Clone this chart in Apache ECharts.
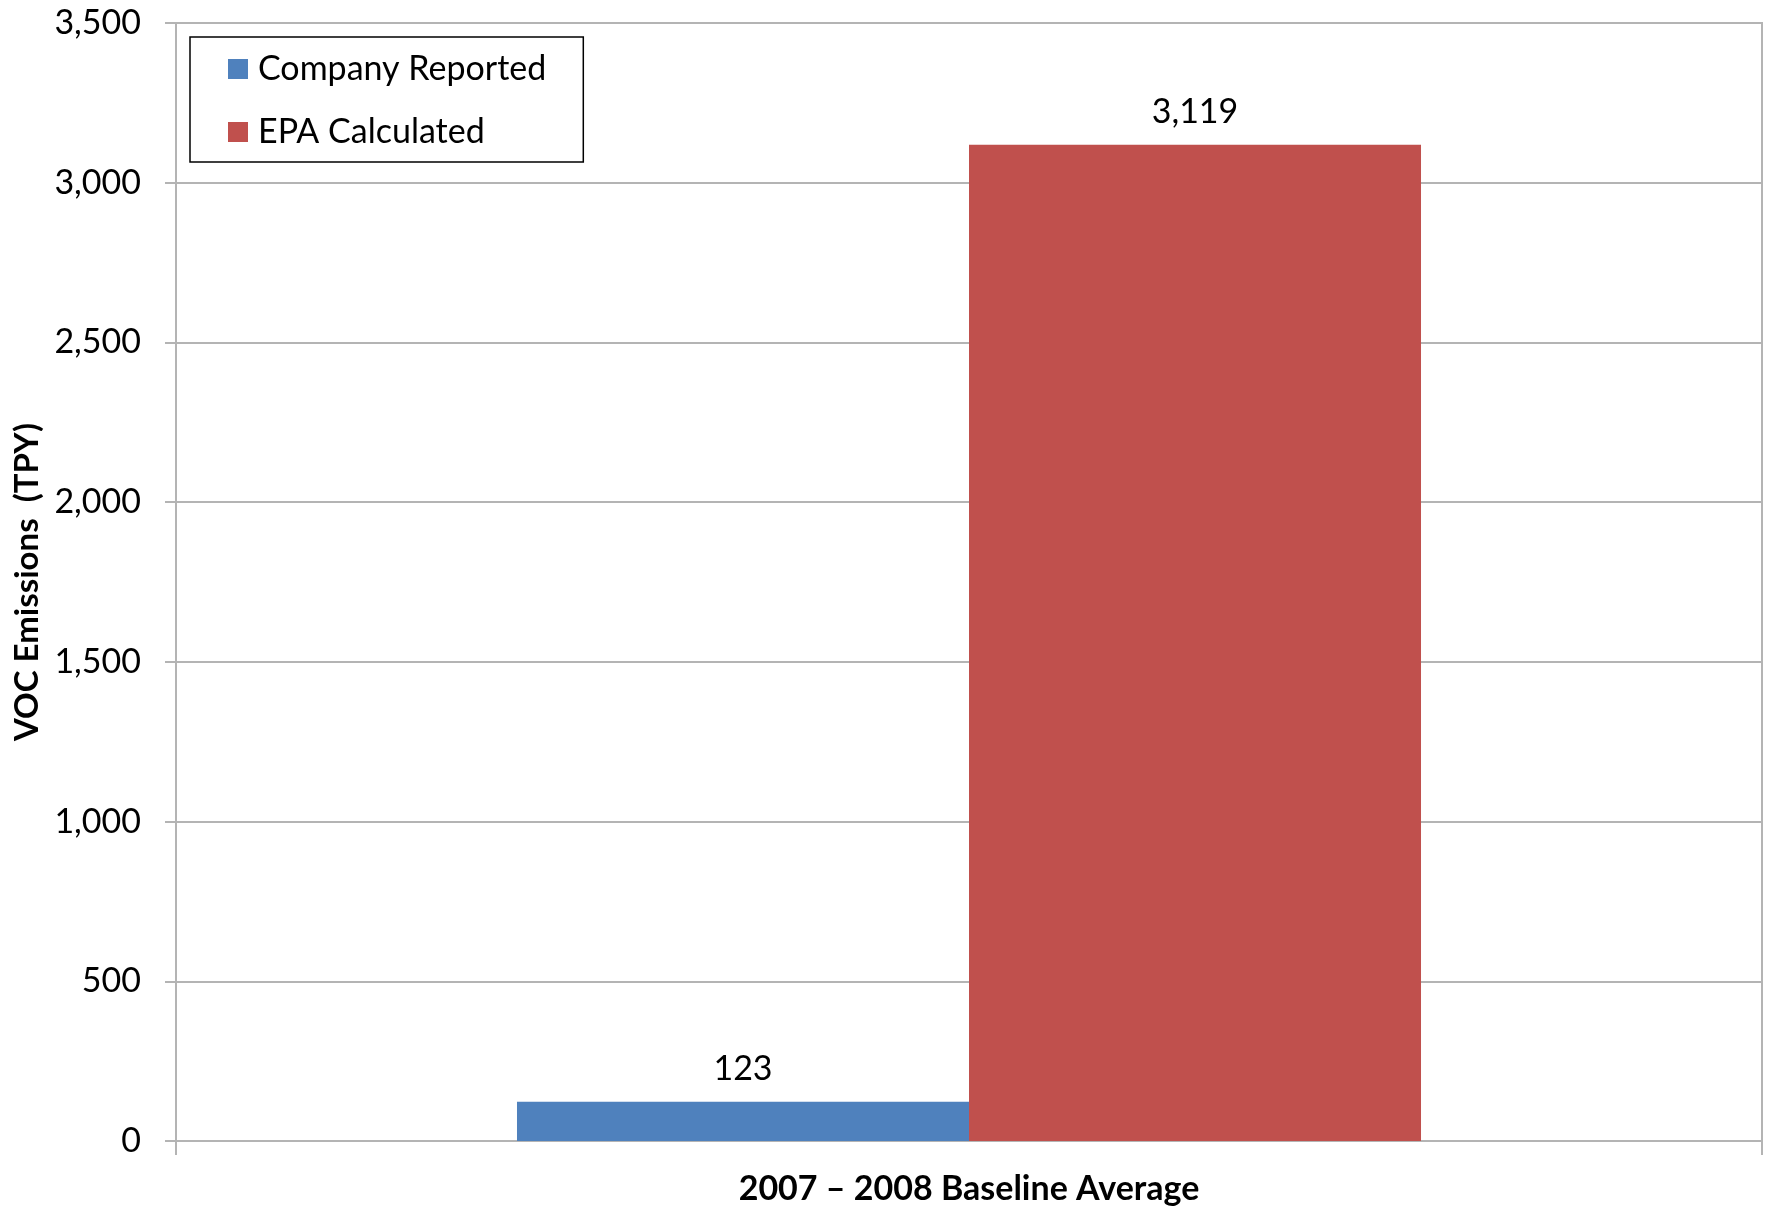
<!DOCTYPE html>
<html>
<head>
<meta charset="utf-8">
<title>VOC Emissions</title>
<script src="https://cdn.jsdelivr.net/npm/echarts@6/dist/echarts.min.js"></script>
<style>
  html, body { margin: 0; padding: 0; background: #ffffff; }
  #chart { width: 1773px; height: 1209px; }
</style>
</head>
<body>
<div id="chart"></div>
<script>
// Baseline VOC emissions, tons per year
const categories = ['2007 \u2013 2008 Baseline Average'];
const seriesNames = ['Company Reported', 'EPA Calculated'];
const companyReported = [123];
const epaCalculated = [3119];
const yTicks = [0, 500, 1000, 1500, 2000, 2500, 3000, 3500];

const FONT = 'Lato, "Open Sans", sans-serif';
const GRID_GREY = '#b4b4b4';

const chart = echarts.init(document.getElementById('chart'), null, { renderer: 'canvas' });

const fmt = v => Number(v).toLocaleString('en-US');

chart.setOption({
  animation: false,
  backgroundColor: '#ffffff',
  grid: {
    left: 176, right: 11, top: 23, bottom: 68,
    outerBoundsMode: 'none',
    containLabel: false,
    show: true, borderColor: GRID_GREY, borderWidth: 2
  },
  legend: {
    orient: 'vertical',
    left: 190, top: 37,
    padding: [15, 37, 13, 38],
    itemGap: 29,
    itemWidth: 20, itemHeight: 20,
    icon: 'rect',
    borderColor: '#000000', borderWidth: 1.5,
    textStyle: { fontFamily: FONT, fontSize: 34, color: '#000000', lineHeight: 30, padding: [0, 0, 0, 5] },
    data: seriesNames
  },
  xAxis: {
    type: 'category',
    data: categories,
    name: categories[0],
    nameLocation: 'middle',
    nameGap: 31,
    nameTextStyle: { fontFamily: FONT, fontSize: 34, fontWeight: 'bold', color: '#000000' },
    axisLine: { lineStyle: { color: GRID_GREY, width: 2 } },
    axisTick: { show: true, length: 14, lineStyle: { color: GRID_GREY, width: 2 } },
    axisLabel: { show: false }
  },
  yAxis: {
    type: 'value',
    min: yTicks[0],
    max: yTicks[yTicks.length - 1],
    interval: yTicks[1] - yTicks[0],
    name: 'VOC Emissions  (TPY)',
    nameLocation: 'middle',
    nameGap: 131,
    nameRotate: 90,
    nameTextStyle: { fontFamily: FONT, fontSize: 33, fontWeight: 'bold', color: '#000000' },
    axisLine: { show: true, lineStyle: { color: GRID_GREY, width: 2 } },
    axisTick: { show: true, length: 11, lineStyle: { color: GRID_GREY, width: 2 } },
    axisLabel: { fontFamily: FONT, fontSize: 34, color: '#000000', margin: 35, formatter: fmt },
    splitLine: { show: true, lineStyle: { color: GRID_GREY, width: 2 } }
  },
  series: [
    {
      name: seriesNames[0],
      type: 'bar',
      data: companyReported,
      barGap: '0%',
      barCategoryGap: '43%',
      itemStyle: { color: '#4f81bd' },
      label: {
        show: true, position: 'top', distance: 16,
        fontFamily: FONT, fontSize: 34, color: '#000000',
        formatter: p => fmt(p.value)
      }
    },
    {
      name: seriesNames[1],
      type: 'bar',
      data: epaCalculated,
      barGap: '0%',
      barCategoryGap: '43%',
      itemStyle: { color: '#c0504d' },
      label: {
        show: true, position: 'top', distance: 16,
        fontFamily: FONT, fontSize: 34, color: '#000000',
        formatter: p => fmt(p.value)
      }
    }
  ]
});
</script>
</body>
</html>
